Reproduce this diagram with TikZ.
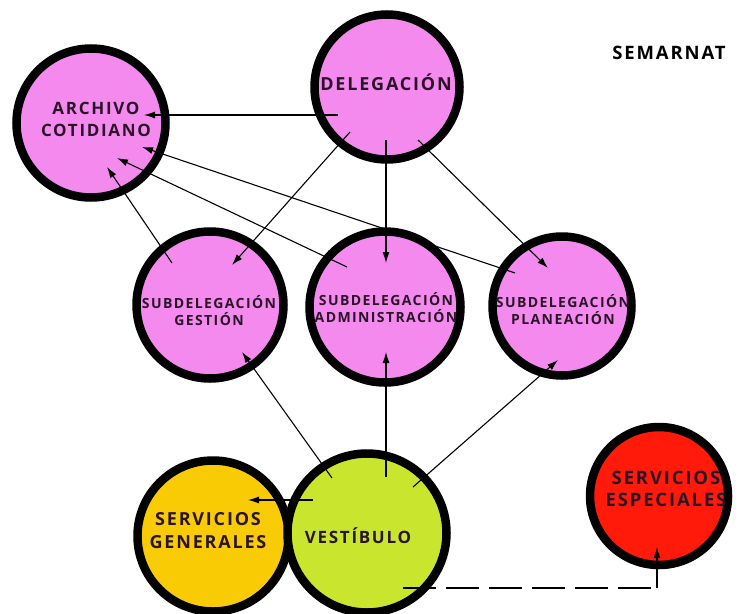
\documentclass[tikz,border=0pt]{standalone}
\usepackage{fontspec}
\setmainfont{Open Sans}
\newfontfamily\rotulo{Open Sans}[LetterSpace=10]
\usetikzlibrary{calc,shadows,arrows.meta}

\definecolor{rosa}{HTML}{F58AEE}
\definecolor{amarillo}{HTML}{F9CB05}
\definecolor{verde}{HTML}{C9E52E}
\definecolor{rojo}{HTML}{FF1A0A}
\definecolor{tinta}{HTML}{2A1428}

\begin{document}
\begin{tikzpicture}[
x=1pt,y=-1pt,
area/.style={
  circle,
  draw=black,
  line width=8.5pt,
  drop shadow={opacity=0.3,shadow xshift=2pt,shadow yshift=-2pt}
  },
rotulo/.style={
  text=tinta,
  align=center,
  font=\rotulo\bfseries
  },
flecha/.style={-{Latex[length=11pt,width=7pt]},line width=1.1pt}
]
\useasboundingbox (0,0) rectangle (738,613);

% areas
\node[area,fill=rosa,minimum size=149pt] (arch) at (91,123) {};
\node[area,fill=rosa,minimum size=145pt] (deleg) at (387,87) {};
\node[area,fill=rosa,minimum size=147pt] (gest) at (210,305) {};
\node[area,fill=rosa,minimum size=151pt] (admin) at (385,307) {};
\node[area,fill=rosa,minimum size=139pt] (plan) at (562,306) {};
\node[area,fill=amarillo,minimum size=151pt] (gen) at (213,536) {};
\node[area,fill=verde,minimum size=159pt] (vest) at (367,533) {};
\node[area,fill=rojo,minimum size=138pt] (spec) at (659,496) {};

% nombres
\node[rotulo,font=\rotulo\bfseries\fontsize{17}{22}\selectfont] (t-arch) at (96,119) {ARCHIVO\\COTIDIANO};
\node[rotulo,font=\rotulo\bfseries\fontsize{18}{22}\selectfont] (t-deleg) at (386,82) {DELEGACIÓN};
\node[rotulo,font=\rotulo\bfseries\fontsize{14}{17}\selectfont] (t-gest) at (209,311) {SUBDELEGACIÓN\\GESTIÓN};
\node[rotulo,font=\rotulo\bfseries\fontsize{14}{17}\selectfont] (t-admin) at (386,308) {SUBDELEGACIÓN\\ADMINISTRACIÓN};
\node[rotulo,font=\rotulo\bfseries\fontsize{14}{17}\selectfont] (t-plan) at (563,310) {SUBDELEGACIÓN\\PLANEACIÓN};
\node[rotulo,font=\rotulo\bfseries\fontsize{18}{23}\selectfont] (t-gen) at (208,531) {SERVICIOS\\GENERALES};
\node[rotulo,font=\rotulo\bfseries\fontsize{17}{23}\selectfont] (t-vest) at (358,536) {VESTÍBULO};
\node[rotulo,font=\rotulo\bfseries\fontsize{18.5}{22}\selectfont] (t-spec) at (666,489) {SERVICIOS\\ESPECIALES};
\node[rotulo,text=black,font=\rotulo\bfseries\fontsize{18.5}{20}\selectfont] (semarnat) at (669,53) {SEMARNAT};

% relaciones
\path[flecha]
  ($(deleg)+(-49,28)$) edge ($(arch)+(53,-8)$)
  ($(deleg)+(-37,45)$) edge ($(gest)+(22,-40)$)
  ($(deleg)+(-1,53)$)  edge ($(admin)+(1,-44)$)
  ($(deleg)+(31,53)$)  edge ($(plan)+(-14,-38)$)
  ($(gest)+(-38,-42)$) edge ($(arch)+(16,44)$)
  ($(admin)+(-38,-40)$) edge ($(arch)+(26,35)$)
  ($(plan)+(-47,-33)$) edge ($(arch)+(51,24)$)
  ($(vest)+(-35,-55)$) edge ($(gest)+(32,47)$)
  ($(vest)+(19,-56)$)  edge ($(admin)+(1,45)$)
  ($(vest)+(46,-46)$)  edge ($(plan)+(-4,54)$)
  ($(vest)+(-54,-33)$) edge ($(gen)+(35,-36)$);
\coordinate (esquina) at ($(spec)+(-2,92)$);
\draw[line width=1.1pt,dash pattern=on 33pt off 10pt] ($(vest)+(36,55)$) -- (esquina);
\draw[flecha] (esquina) -- ($(spec)+(-2,51)$);
\end{tikzpicture}
\end{document}
